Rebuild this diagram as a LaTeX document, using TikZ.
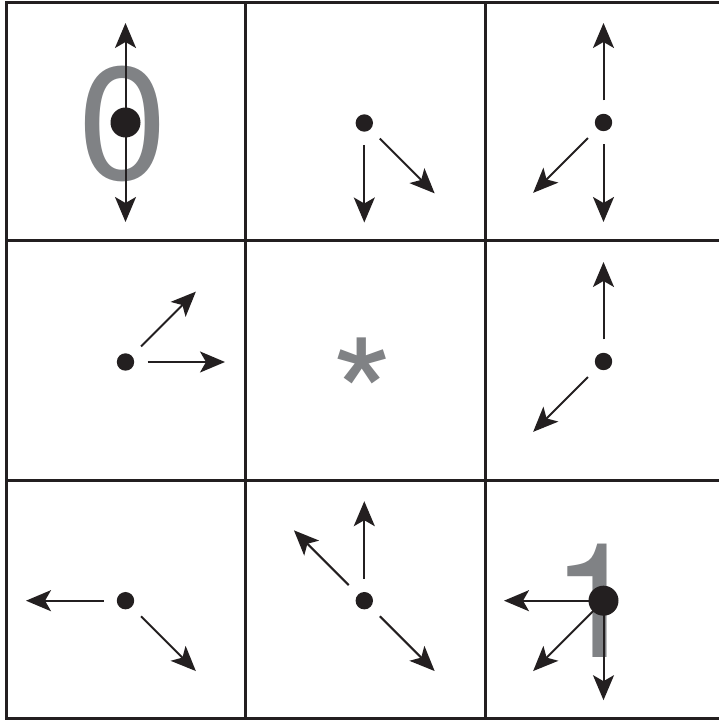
\documentclass[tikz,border=0pt]{standalone}
\usepackage{fontspec}
\setmainfont{TeX Gyre Heros}
\usetikzlibrary{arrows.meta,calc}
\definecolor{ink}{RGB}{35,31,32}
\definecolor{digitgray}{RGB}{128,130,133}
\begin{document}
\begin{tikzpicture}[x=1pt,y=1pt,
  mytip/.tip={Stealth[length=25pt,width=21pt,inset=6pt]},
  gridline/.style={draw=ink,line width=3pt},
  arr/.style={draw=ink,line width=2pt,-mytip},
  arrboth/.style={draw=ink,line width=2pt,mytip-mytip},
  dot/.style={circle,fill=ink,inner sep=0pt,minimum size=17.4pt},
  bigdot/.style={circle,fill=ink,inner sep=0pt,minimum size=30pt},
  glyph/.style={text=digitgray,font=\fontsize{160pt}{160pt}\selectfont,inner sep=0pt,anchor=base}]
\useasboundingbox (0,0) rectangle (719,721);
% grid
\draw[gridline] (719,718) -- (6,718) -- (6,2) -- (719,2);
\draw[gridline] (245,718) -- (245,2);
\draw[gridline] (485,718) -- (485,2);
\draw[gridline] (6,480) -- (719,480);
\draw[gridline] (6,240) -- (719,240);
% gray glyphs
\node[glyph] (zero) at (123,541) {0};
\node[glyph] (star) at (362.5,266) {*};
\node[glyph] (one) at (595.7,63) {1};
% dot positions
\coordinate (p11) at (125.5,598.5);
\coordinate (p12) at (364.3,598);
\coordinate (p13) at (603.5,598.5);
\coordinate (p21) at (125.5,359);
\coordinate (p23) at (603.5,359.5);
\coordinate (p31) at (125.5,120.3);
\coordinate (p32) at (364.3,120.3);
\coordinate (p33) at (603.5,120.3);
% arrows
\draw[arrboth] (p11) ++(-90:99.5) coordinate (a11s) -- ($(p11)+(90:99.5)$) coordinate (a11e);
\foreach \a in {-90,-45} \draw[arr] (p12) ++(\a:22) -- ++(\a:77.5);
\foreach \a in {90,-90,225} \draw[arr] (p13) ++(\a:22) -- ++(\a:77.5);
\foreach \a in {45,0} \draw[arr] (p21) ++(\a:22) -- ++(\a:77.5);
\foreach \a in {90,225} \draw[arr] (p23) ++(\a:22) -- ++(\a:77.5);
\foreach \a in {180,-45} \draw[arr] (p31) ++(\a:22) -- ++(\a:77.5);
\foreach \a in {90,135,-45} \draw[arr] (p32) ++(\a:22) -- ++(\a:77.5);
\foreach \a in {180,225,270} \draw[arr] (p33) -- ++(\a:99.5);
% dots
\node[bigdot] (d11) at (p11) {};
\node[dot] (d12) at (p12) {};
\node[dot] (d13) at (p13) {};
\node[dot] (d21) at (p21) {};
\node[dot] (d23) at (p23) {};
\node[dot] (d31) at (p31) {};
\node[dot] (d32) at (p32) {};
\node[bigdot] (d33) at (p33) {};
\end{tikzpicture}
\end{document}
